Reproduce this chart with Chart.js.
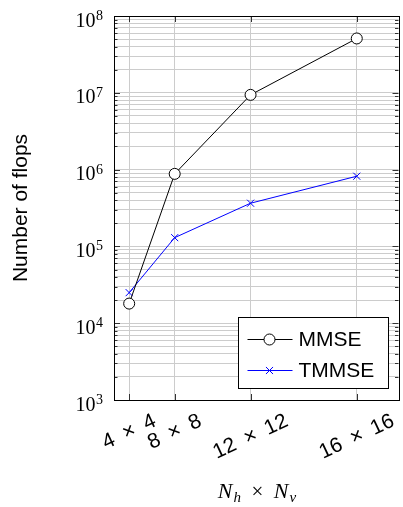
<!DOCTYPE html>
<html>
<head>
<meta charset="utf-8">
<title>Number of flops</title>
<script src="https://cdn.jsdelivr.net/npm/chart.js@4.4.1/dist/chart.umd.min.js"></script>
<style>
    html, body { margin: 0; padding: 0; background: #fff; overflow: hidden; }
    #wrap { width: 405px; height: 507px; }
</style>
</head>
<body>
<div id="wrap"><canvas id="flopsChart" width="405" height="507"></canvas></div>
<script>
// Antenna grid sizes (N_h = N_v) and flop counts per detector
const gridSizes = [4, 8, 12, 16];
const antennaCounts = [16, 64, 144, 256];          // N_h x N_v
const mmseFlops = [1.8e4, 8.8e5, 9.4e6, 5.1e7];
const tmmseFlops = [2.5e4, 1.3e5, 3.65e5, 8.2e5];
const xTickLabels = gridSizes.map(n => n + '\u2002\u00d7\u2002' + n);
const yDecades = [3, 4, 5, 6, 7, 8];

const SANS = '"Liberation Sans", Arial, sans-serif';
const SERIF = '"Liberation Serif", "Times New Roman", serif';
const GRID = '#cccccc';
const TICK = '#333333';

function isDecade(v) {
    const l = Math.log10(v);
    return Math.abs(l - Math.round(l)) < 1e-9;
}

// Tick marks, frame, tick labels, axis titles and the boxed legend
const axisDecor = {
    id: 'axisDecor',
    beforeDatasetsDraw(chart) {
        const { ctx, chartArea: a, scales: { x, y } } = chart;
        ctx.save();
        ctx.strokeStyle = TICK;
        ctx.lineWidth = 1;
        ctx.beginPath();
        y.ticks.forEach(t => {
            const py = Math.round(y.getPixelForValue(t.value)) + 0.5;
            const len = isDecade(t.value) ? 6 : 3.5;
            ctx.moveTo(a.left, py); ctx.lineTo(a.left + len, py);
            ctx.moveTo(a.right, py); ctx.lineTo(a.right - len, py);
        });
        x.ticks.forEach(t => {
            const px = Math.round(x.getPixelForValue(t.value)) + 0.5;
            ctx.moveTo(px, a.bottom); ctx.lineTo(px, a.bottom - 6);
            ctx.moveTo(px, a.top); ctx.lineTo(px, a.top + 6);
        });
        ctx.stroke();
        ctx.restore();
    },
    afterDraw(chart) {
        const { ctx, chartArea: a, scales: { x, y } } = chart;
        ctx.save();

        // frame
        ctx.strokeStyle = '#000';
        ctx.lineWidth = 1;
        ctx.strokeRect(Math.round(a.left) + 0.5, Math.round(a.top) + 0.5,
            Math.round(a.right - a.left), Math.round(a.bottom - a.top));

        // y tick labels 10^n
        ctx.fillStyle = '#000';
        ctx.textAlign = 'right';
        ctx.textBaseline = 'alphabetic';
        yDecades.forEach(e => {
            const py = y.getPixelForValue(Math.pow(10, e));
            const right = a.left - 11;
            ctx.font = '14px ' + SERIF;
            const supW = ctx.measureText(String(e)).width;
            ctx.fillText(String(e), right, py + 4);
            ctx.font = '20px ' + SERIF;
            ctx.fillText('10', right - supW - 0.5, py + 10.5);
        });

        // rotated x tick labels
        const ang = 25 * Math.PI / 180;
        ctx.font = '21px ' + SANS;
        ctx.textAlign = 'center';
        ctx.textBaseline = 'middle';
        antennaCounts.forEach((v, i) => {
            const w = ctx.measureText(xTickLabels[i]).width;
            const cx = x.getPixelForValue(v);
            const cy = a.bottom + 20 + w * Math.sin(ang) / 2;
            ctx.save();
            ctx.translate(cx, cy);
            ctx.rotate(-ang);
            ctx.fillText(xTickLabels[i], 0, 0);
            ctx.restore();
        });

        // y axis title
        ctx.save();
        ctx.translate(27, (a.top + a.bottom) / 2);
        ctx.rotate(-Math.PI / 2);
        ctx.font = '21px ' + SANS;
        ctx.textAlign = 'center';
        ctx.textBaseline = 'alphabetic';
        ctx.fillText('Number of flops', 0, 0);
        ctx.restore();

        // x axis title: N_h x N_v
        const parts = [
            { t: 'N', f: 'italic 22px ' + SERIF, dy: 0 },
            { t: 'h', f: 'italic 15px ' + SERIF, dy: 4 },
            { t: '\u2002\u00d7\u2002', f: '21px ' + SERIF, dy: 0 },
            { t: 'N', f: 'italic 22px ' + SERIF, dy: 0 },
            { t: 'v', f: 'italic 15px ' + SERIF, dy: 4 }
        ];
        let total = 0;
        parts.forEach(p => { ctx.font = p.f; p.w = ctx.measureText(p.t).width; total += p.w; });
        let tx = a.left + 142 - total / 2;
        ctx.textAlign = 'left';
        ctx.textBaseline = 'alphabetic';
        parts.forEach(p => {
            ctx.font = p.f;
            ctx.fillText(p.t, tx, 498 + p.dy);
            tx += p.w + (p.t === 'N' ? 1 : 0);
        });

        // legend box, south east inside the plot
        const lw = 150, lh = 71;
        const lx = Math.round(a.right - 11 - lw) + 0.5;
        const ly = Math.round(a.bottom - 12 - lh) + 0.5;
        ctx.fillStyle = '#fff';
        ctx.fillRect(lx, ly, lw, lh);
        ctx.strokeStyle = '#000';
        ctx.strokeRect(lx, ly, lw, lh);
        chart.data.datasets.forEach((ds, i) => {
            const ry = Math.round(ly + 21 + i * 31) + 0.5;
            ctx.strokeStyle = ds.borderColor;
            ctx.lineWidth = 1;
            ctx.beginPath();
            ctx.moveTo(lx + 9, ry);
            ctx.lineTo(lx + 54, ry);
            ctx.stroke();
            ctx.fillStyle = ds.pointBackgroundColor || '#fff';
            Chart.helpers.drawPoint(ctx, {
                pointStyle: ds.pointStyle,
                radius: ds.pointRadius,
                borderWidth: 1,
                rotation: 0
            }, lx + 31, ry);
            ctx.fillStyle = '#000';
            ctx.font = '21px ' + SANS;
            ctx.textAlign = 'left';
            ctx.textBaseline = 'middle';
            ctx.fillText(ds.label, lx + 60, ry + 1);
        });

        ctx.restore();
    }
};

const ctx = document.getElementById('flopsChart');

new Chart(ctx, {
    type: 'line',
    data: {
        datasets: [
            {
                label: 'MMSE',
                data: antennaCounts.map((n, i) => ({ x: n, y: mmseFlops[i] })),
                borderColor: '#000000',
                borderWidth: 1,
                pointStyle: 'circle',
                pointRadius: 5.5,
                pointBorderWidth: 1,
                pointBorderColor: '#000000',
                pointBackgroundColor: '#ffffff',
                tension: 0,
                fill: false
            },
            {
                label: 'TMMSE',
                data: antennaCounts.map((n, i) => ({ x: n, y: tmmseFlops[i] })),
                borderColor: '#0000ff',
                borderWidth: 1,
                pointStyle: 'crossRot',
                pointRadius: 5,
                pointBorderWidth: 1,
                pointBorderColor: '#0000ff',
                pointBackgroundColor: '#0000ff',
                tension: 0,
                fill: false
            }
        ]
    },
    options: {
        responsive: false,
        devicePixelRatio: 1,
        animation: false,
        layout: { padding: { left: 114, top: 16, right: 1, bottom: 107 } },
        plugins: {
            legend: { display: false },
            tooltip: { enabled: false }
        },
        scales: {
            x: {
                type: 'linear',
                min: 0,
                max: 300,
                afterBuildTicks(scale) {
                    scale.ticks = antennaCounts.map(v => ({ value: v }));
                },
                ticks: { display: false },
                grid: { color: GRID, lineWidth: 1, drawTicks: false },
                border: { display: false }
            },
            y: {
                type: 'logarithmic',
                min: 1e3,
                max: 1e8,
                afterBuildTicks(scale) {
                    const ticks = [];
                    yDecades.forEach((e, i) => {
                        const last = i === yDecades.length - 1;
                        for (let k = 1; k <= (last ? 1 : 9); k++) {
                            ticks.push({ value: k * Math.pow(10, e) });
                        }
                    });
                    scale.ticks = ticks;
                },
                ticks: { display: false },
                grid: { color: GRID, lineWidth: 1, drawTicks: false },
                border: { display: false }
            }
        }
    },
    plugins: [axisDecor]
});
</script>
</body>
</html>
